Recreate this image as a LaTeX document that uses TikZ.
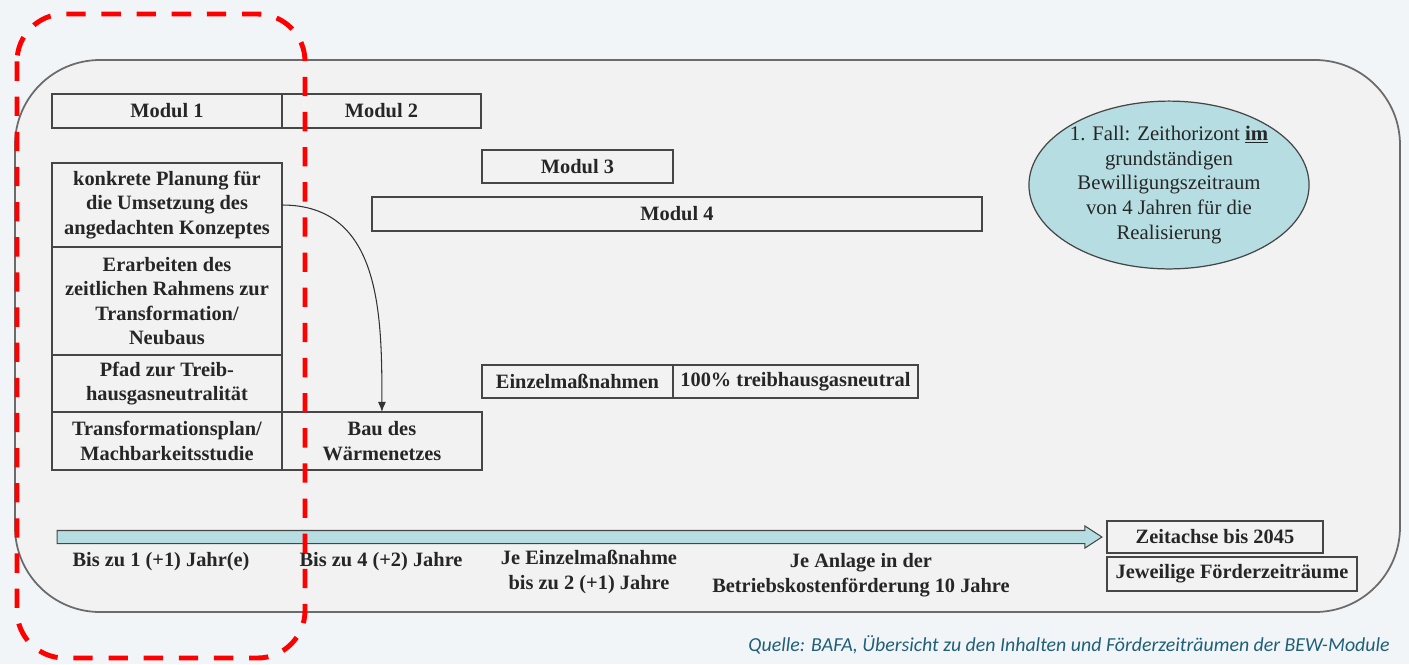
\documentclass[tikz,border=0pt]{standalone}
\usepackage{fontspec}
\setmainfont{Liberation Serif}
\newfontfamily\quellefont{Carlito}
\usepackage{tikz}
\usetikzlibrary{shapes.geometric, shapes.arrows, arrows.meta, positioning}
\definecolor{bafabg}{RGB}{242,245,248}
\definecolor{bafapanel}{RGB}{242,242,242}
\definecolor{bafaline}{RGB}{70,70,70}
\definecolor{bafacyan}{RGB}{182,222,226}
\definecolor{bafared}{RGB}{255,0,0}
\definecolor{bafateal}{RGB}{31,96,120}

\begin{document}
\begin{tikzpicture}[
    x=0.02cm, y=-0.02cm,
    box/.style={rectangle, draw=bafaline, line width=0.8pt, outer sep=0pt, inner sep=1pt, align=center, text=black!85, font=\bfseries\fontsize{11.6}{14}\selectfont},
    label/.style={inner sep=0pt, align=center, text=black!85, font=\bfseries\fontsize{11.6}{14}\selectfont},
    fall/.style={ellipse, draw=bafaline, line width=0.7pt, fill=bafacyan, inner sep=0pt, minimum width=5.5cm, minimum height=2.74cm, align=center, text=black!85, font=\fontsize{11.8}{14.2}\selectfont},
    zeitpfeil/.style={single arrow, draw=bafaline, line width=0.6pt, fill=bafacyan, inner xsep=0pt, inner ysep=0.12cm, minimum height=20.9cm, single arrow head extend=0.09cm, single arrow tip angle=66},
    arrow/.style={-{Latex[length=2mm, width=1.6mm]}, line width=0.6pt, color=black!80}
]
\useasboundingbox[fill=bafabg] (0,0) rectangle (1409,664);

% Rahmen
\draw[bafaline!80, line width=1pt, fill=bafapanel, rounded corners=1.7cm] (15,60) rectangle (1400,612);

% Module
\node[box, minimum width=4.6cm, minimum height=0.68cm, anchor=north west] (modul1) at (52,94) {Modul 1};
\node[box, minimum width=3.98cm, minimum height=0.68cm, right=0pt of modul1] (modul2) {Modul 2};
\node[box, minimum width=3.82cm, minimum height=0.66cm, anchor=north west] (modul3) at (482,150) {Modul 3};
\node[box, minimum width=12.2cm, minimum height=0.68cm, anchor=north west] (modul4) at (372,197) {Modul 4};

% Inhalte Modul 1
\node[box, minimum width=4.6cm, minimum height=1.68cm, anchor=north west] (planung) at (52,163) {konkrete Planung für\\die Umsetzung des\\angedachten Konzeptes};
\node[box, minimum width=4.6cm, minimum height=2.16cm, below=0pt of planung] (rahmen) {Erarbeiten des\\zeitlichen Rahmens zur\\Transformation/\\Neubaus};
\node[box, minimum width=4.6cm, minimum height=1.14cm, below=0pt of rahmen] (pfad) {Pfad zur Treib-\\hausgasneutralität};
\node[box, minimum width=4.6cm, minimum height=1.16cm, below=0pt of pfad] (plan) {Transformationsplan/\\Machbarkeitsstudie};
\node[box, minimum width=4cm, minimum height=1.16cm, right=0pt of plan] (bau) {Bau des\\Wärmenetzes};

% Modul 3
\node[box, minimum width=3.82cm, minimum height=0.66cm, anchor=north west] (einzel) at (482,365) {Einzelmaßnahmen};
\node[box, minimum width=4.9cm, minimum height=0.66cm, right=0pt of einzel] (neutral) {100\% treibhausgasneutral};

% Fall
\node[fall] (fall1) at (1169,185) {1. Fall: Zeithorizont \underline{\textbf{im}}\\grundständigen\\Bewilligungszeitraum\\von 4 Jahren für die\\Realisierung};

% Zeitachse
\node[zeitpfeil] (achse) at (574.5,537) {};
\node[box, minimum width=4.32cm, minimum height=0.64cm, anchor=north west] (zeitachse) at (1107,521) {Zeitachse bis 2045};
\node[box, minimum width=5cm, minimum height=0.68cm, anchor=north west] (foerder) at (1107,557) {Jeweilige Förderzeiträume};

\node[label] (dauer1) at (161,562) {Bis zu 1 (+1) Jahr(e)};
\node[label] (dauer2) at (381,562) {Bis zu 4 (+2) Jahre};
\node[label] (dauer3) at (589,572) {Je Einzelmaßnahme\\bis zu 2 (+1) Jahre};
\node[label] (dauer4) at (861,575) {Je Anlage in der\\Betriebskostenförderung 10 Jahre};

% Pfeil
\draw[arrow] (planung.east) to[out=0, in=90, looseness=1.1] (bau.north);

% Markierung
\draw[bafared, line width=2.8pt, dash pattern=on 11pt off 9pt, rounded corners=0.95cm] (17,14) rectangle (305,658);

\node[anchor=east, inner sep=0pt, text=bafateal, font=\quellefont\itshape\fontsize{11.3}{13}\selectfont] (quelle) at (1390,645) {Quelle: BAFA, Übersicht zu den Inhalten und Förderzeiträumen der BEW-Module};

\end{tikzpicture}
\end{document}
